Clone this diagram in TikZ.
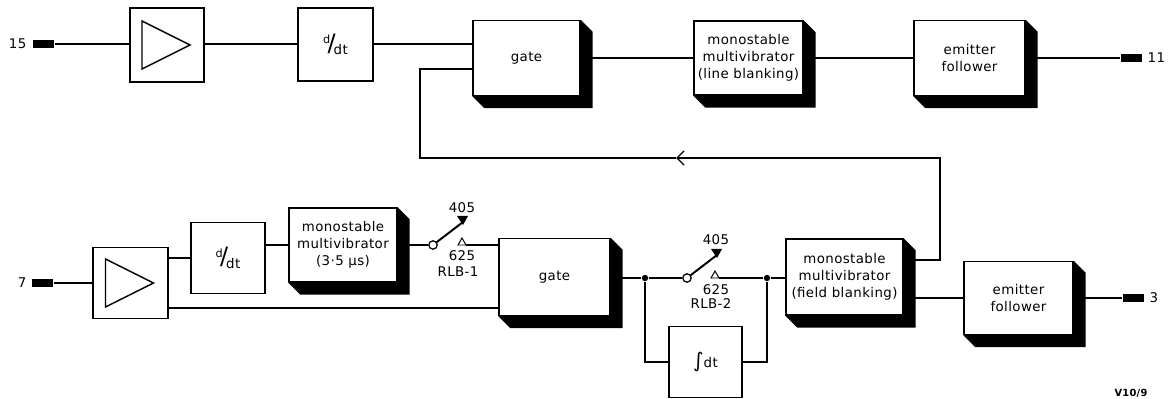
\documentclass[tikz,border=0pt]{standalone}
\usepackage{fontspec}
\setmainfont{DejaVu Sans}[LetterSpace=3]
\usetikzlibrary{arrows.meta}

\newcommand{\ddtsym}{\raisebox{1.0ex}{\fontsize{8}{8}\selectfont d}\kern-0.2em{\fontsize{17}{17}\selectfont /}\kern-0.15em\raisebox{-0.5ex}{dt}}

\tikzset{
  block/.style={draw, fill=white, inner sep=0pt, align=center, font=\fontsize{9.5}{12}\selectfont},
  term/.style={fill, minimum width=0.525cm, minimum height=0.2cm, inner sep=0pt},
  jdot/.style={circle, fill, minimum size=0.16cm, inner sep=0pt},
  pivot/.style={circle, draw, fill=white, line width=0.9pt, minimum size=0.21cm, inner sep=0pt},
  lbl/.style={font=\fontsize{9.5}{11}\selectfont, inner sep=0pt},
}

\begin{document}
\begin{tikzpicture}[x=0.025cm, y=-0.025cm, line width=1pt]
    \useasboundingbox (0,0) rectangle (1172,399);

    % upper chain
    \node[term] (in15) at (43.5,44) {};
    \node[lbl, anchor=east] (l15) at (27,44) {15};
    \node[block, minimum width=1.85cm, minimum height=1.85cm] (ampA) at (167,45) {};
    \node[block, minimum width=1.875cm, minimum height=1.825cm] (ddtA) at (335.5,44.5) {\ddtsym};
    \node[block, minimum width=2.675cm, minimum height=1.875cm] (gateA) at (526.5,58) {gate};
    \node[block, minimum width=2.725cm, minimum height=1.85cm] (monoA) at (748.5,58) {monostable\\multivibrator\\(line blanking)};
    \node[block, minimum width=2.775cm, minimum height=1.875cm] (efA) at (969.5,58) {emitter\\follower};
    \node[term] (out11) at (1131.5,58) {};
    \node[lbl, anchor=west] (l11) at (1147,58) {11};

    % lower chain
    \node[term] (in7) at (42.5,283) {};
    \node[lbl, anchor=east] (l7) at (27,283) {7};
    \node[block, minimum width=1.875cm, minimum height=1.775cm] (ampB) at (130.5,283) {};
    \node[block, minimum width=1.85cm, minimum height=1.775cm] (ddtB) at (228,258) {\ddtsym};
    \node[block, minimum width=2.7cm, minimum height=1.85cm] (monoC) at (343,245) {monostable\\multivibrator\\(3·5 µs)};
    \node[block, minimum width=2.775cm, minimum height=1.925cm] (gateB) at (554.5,277) {gate};
    \node[block, minimum width=1.825cm, minimum height=1.775cm] (integ) at (705.5,362) {{\Large ∫}dt};
    \node[block, minimum width=2.925cm, minimum height=1.9cm] (monoB) at (844.5,277) {monostable\\multivibrator\\(field blanking)};
    \node[block, minimum width=2.725cm, minimum height=1.825cm] (efB) at (1018.5,298) {emitter\\follower};
    \node[term] (out3) at (1133,298) {};
    \node[lbl, anchor=west] (l3) at (1149,298) {3};
    \node[font=\fontsize{7}{8}\selectfont\bfseries, inner sep=0pt] (ref) at (1131,393) {V10/9};

    % shadows
    \foreach \n in {gateA,monoA,efA,monoC,gateB,monoB,efB}
        \fill (\n.north east) -- ([shift={(12,12)}]\n.north east) -- ([shift={(12,12)}]\n.south east)
            -- ([shift={(12,12)}]\n.south west) -- (\n.south west) -- (\n.south east) -- cycle;

    % amplifier triangles
    \foreach \n in {ampA,ampB}
        \draw ([shift={(-25,-24)}]\n.center) -- ([shift={(-25,24)}]\n.center) -- ([shift={(23,0)}]\n.center) -- cycle;

    % upper connections
    \draw (in15.east) -- (in15.east -| ampA.west);
    \draw (ampA.east |- in15) -- (in15 -| ddtA.west);
    \draw (ddtA.east |- in15) -- (in15 -| gateA.west);
    \draw (gateA.east) -- (gateA.east -| monoA.west);
    \draw (monoA.east) -- (monoA.east -| efA.west);
    \draw (efA.east) -- (out11.west);

    % lower connections
    \draw (in7.east) -- (in7.east -| ampB.west);
    \draw (ddtB.west -| ampB.east) -- (ddtB.west);
    \draw (monoC.west -| ddtB.east) -- (monoC.west);
    \draw ([shift={(0,25)}]ampB.east) -- ([shift={(0,25)}]ampB.east -| gateB.west);

    % switch RLB-1
    \node[pivot] (sw1) at (433,245) {};
    \coordinate (sw1t) at (463,222);
    \coordinate (ct1) at (466,245);
    \draw[line width=1.4pt] (sw1) -- (sw1t);
    \fill (457,216) -- (468,216) -- (463,225) -- cycle;
    \draw[line width=0.7pt] (458,245) -- (462,238) -- (ct1) -- cycle;
    \draw (monoC.east |- sw1) -- (sw1);
    \draw (ct1) -- (ct1 -| gateB.west);
    \node[lbl] (s1a) at (462,208) {405};
    \node[lbl] (s1b) at (462,256) {625};
    \node[lbl] (s1c) at (458,272) {RLB-1};

    % switch RLB-2 and integrator
    \node[jdot] (jA) at (645,278) {};
    \node[jdot] (jB) at (767,278) {};
    \node[pivot] (sw2) at (687,278) {};
    \coordinate (sw2t) at (717,255);
    \coordinate (ct2) at (719,278);
    \draw[line width=1.4pt] (sw2) -- (sw2t);
    \fill (711,249) -- (722,249) -- (717,258) -- cycle;
    \draw[line width=0.7pt] (711,278) -- (715,271) -- (ct2) -- cycle;
    \draw (gateB.east |- jA) -- (jA) -- (sw2);
    \draw (ct2) -- (jB) -- (jB -| monoB.west);
    \draw (jA) |- (integ.west);
    \draw (integ.east) -| (jB);
    \node[lbl] (s2a) at (716,240) {405};
    \node[lbl] (s2b) at (716,290) {625};
    \node[lbl] (s2c) at (711,304) {RLB-2};

    % outputs
    \draw (efB.west -| monoB.east) -- (efB.west);
    \draw (efB.east) -- (out3.west);

    % feedback to upper gate
    \coordinate (fbR) at (940,260);
    \coordinate (fbRT) at (940,158);
    \coordinate (fbM) at (676,158);
    \coordinate (fbLT) at (420,158);
    \coordinate (fbL) at (420,69);
    \draw[-{Straight Barb[length=5pt,width=10pt]}] (monoB.east |- fbR) -- (fbR) -- (fbRT) -- (fbM);
    \draw (fbM) -- (fbLT) -- (fbL) -- (fbL -| gateA.west);
\end{tikzpicture}
\end{document}
